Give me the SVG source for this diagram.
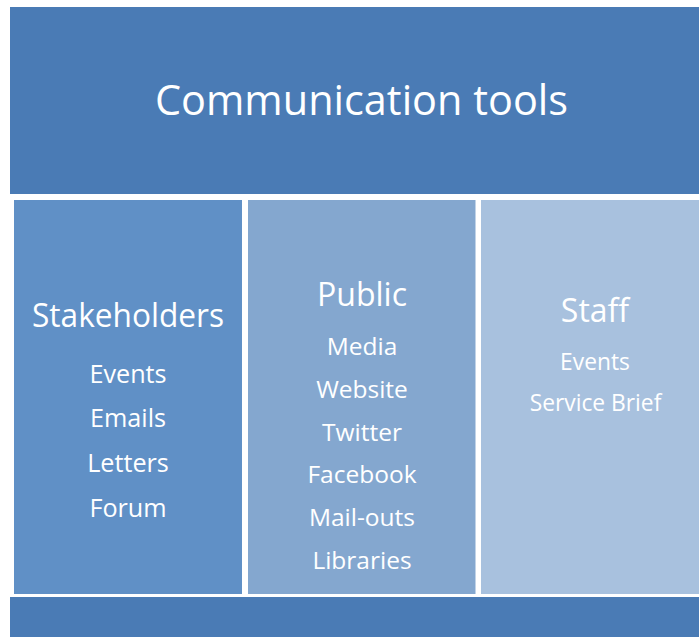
<svg xmlns="http://www.w3.org/2000/svg" width="699" height="637" viewBox="0 0 699 637">
  <style>
    text { font-family: "Open Sans", "Liberation Sans", sans-serif; fill: #ffffff; text-anchor: middle; }
    .title { font-size: 42px; }
    .head { font-size: 32px; }
    .item { font-size: 25.2px; }
    .item-mid { font-size: 24.5px; }
    .item-staff { font-size: 22.8px; }
  </style>
  <rect width="699" height="637" fill="#ffffff"/>

  <!-- top banner -->
  <g id="banner">
    <rect x="10" y="7" width="704" height="187" fill="#4A7BB5"/>
    <text class="title" x="361.5" y="115" textLength="413" lengthAdjust="spacingAndGlyphs">Communication tools</text>
  </g>

  <!-- stakeholders column -->
  <g id="stakeholders">
    <rect x="14" y="200" width="228" height="394" fill="#6090C6"/>
    <text class="head" x="128" y="327" textLength="192" lengthAdjust="spacingAndGlyphs">Stakeholders</text>
    <text class="item" x="128" y="382.5">Events</text>
    <text class="item" x="128" y="426.5">Emails</text>
    <text class="item" x="128" y="471.5">Letters</text>
    <text class="item" x="128" y="516.5">Forum</text>
  </g>

  <!-- public column -->
  <g id="public">
    <rect x="248" y="200" width="227.5" height="394" fill="#84A7CF"/>
    <text class="head" x="362" y="306">Public</text>
    <text class="item-mid" x="362" y="355">Media</text>
    <text class="item-mid" x="362" y="398">Website</text>
    <text class="item-mid" x="362" y="441">Twitter</text>
    <text class="item-mid" x="362" y="483">Facebook</text>
    <text class="item-mid" x="362" y="526">Mail-outs</text>
    <text class="item-mid" x="362" y="569">Libraries</text>
  </g>

  <!-- staff column -->
  <g id="staff">
    <rect x="481" y="200" width="230" height="394" fill="#A8C1DE"/>
    <text class="head" x="595" y="321.5">Staff</text>
    <text class="item-staff" x="595" y="370">Events</text>
    <text class="item-staff" x="595.5" y="410.5">Service Brief</text>
  </g>

  <!-- bottom band -->
  <g id="footer">
    <rect x="10" y="597" width="704" height="45" fill="#4A7BB5"/>
  </g>

  <g id="connectors"/>
</svg>
